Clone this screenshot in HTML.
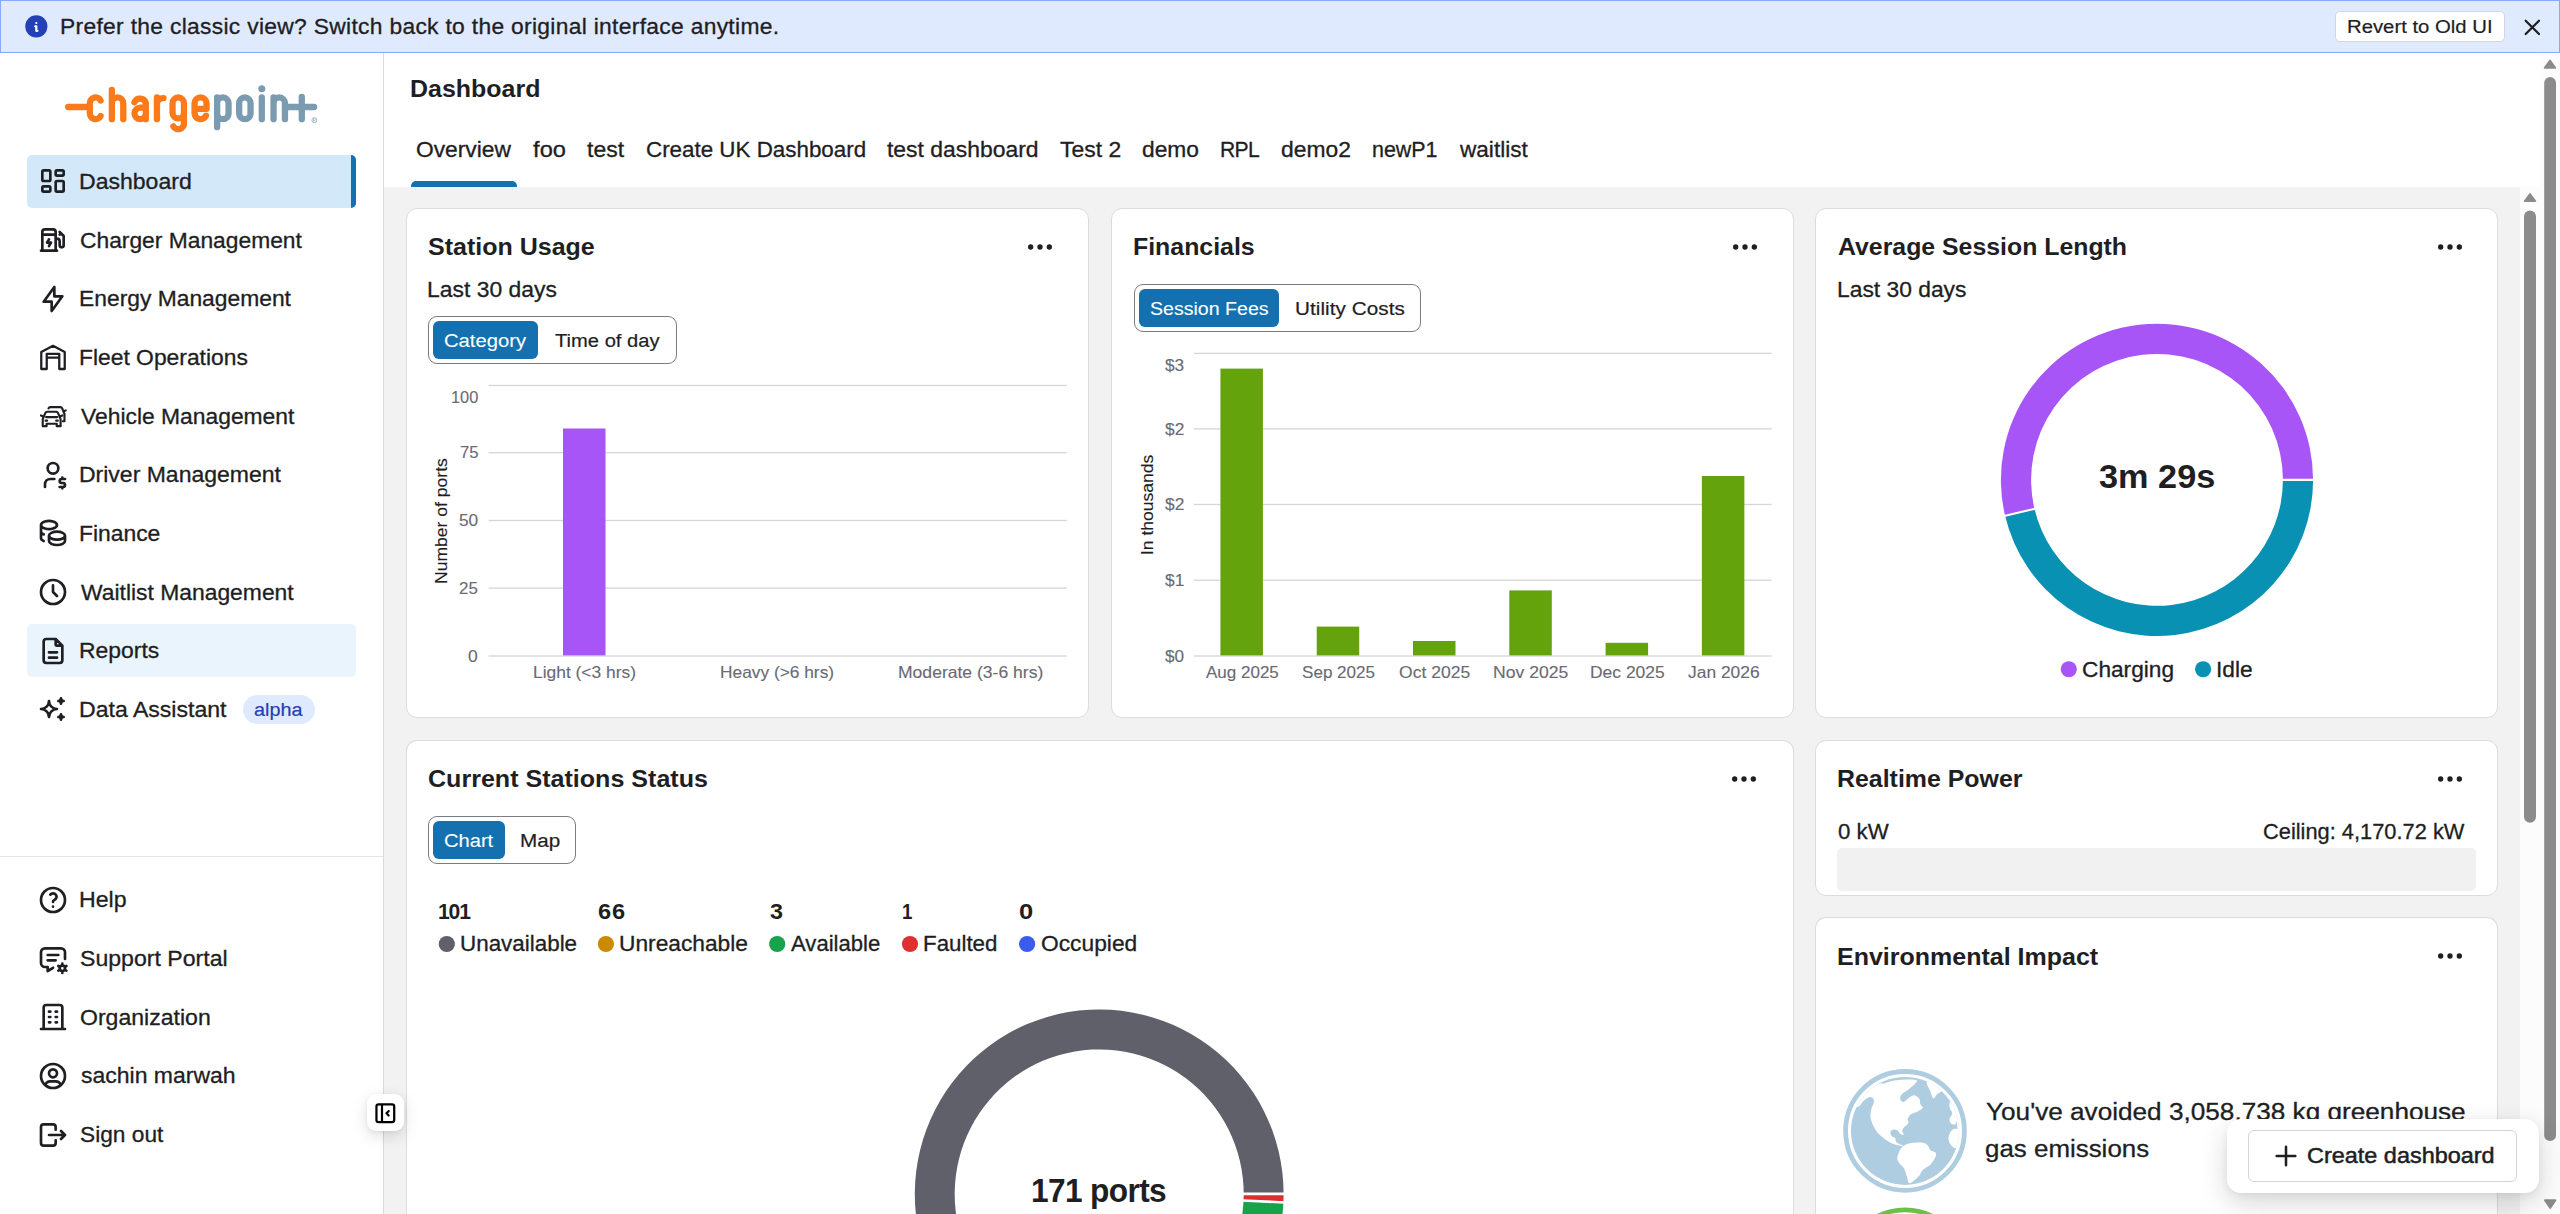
<!DOCTYPE html>
<html lang="en"><head><meta charset="utf-8"><title>Dashboard</title><style>
html,body{margin:0;padding:0}
html{overflow:hidden;width:2560px;height:1214px}
body{width:2560px;height:1214px;position:relative;overflow:hidden;background:#fff;font-family:"Liberation Sans",sans-serif;color:#1e1e23}
.b,.t,.i,.s{position:absolute}
.b{box-sizing:border-box}
.t{white-space:nowrap;display:block;transform-origin:0 0;-webkit-text-stroke:.3px currentColor}
.card{background:#fff;border:1.33px solid #dcdce0;border-radius:11px}
.seg{border:1.33px solid #7c7c85;border-radius:9px;background:#fff}
.on{background:#1470af;border-radius:6px}
.dot{border-radius:50%}
</style></head>
<body>
<div class="b" style="left:384.00px;top:186.70px;width:2136.00px;height:1027.30px;background:#f2f2f2"></div>
<div class="b" style="left:0.00px;top:53.00px;width:383.30px;height:1161.00px;background:#fff"></div>
<div class="b" style="left:383.00px;top:53.00px;width:1.33px;height:1161.00px;background:#dadade"></div>
<header>
<div class="b" style="left:0.00px;top:0.00px;width:2560.00px;height:53.30px;background:#e0eaff;border:1.33px solid #84a9ff"></div>
<svg class="i" style="left:22.62px;top:13.27px" width="26.67" height="26.67" viewBox="0 0 24 24"><circle cx="12" cy="12" r="10" fill="#2340b5"/><path d="M12 9h.01M11 12h1v4h1" fill="none" stroke="#fff" stroke-width="2" stroke-linecap="round" stroke-linejoin="round"/></svg>
<span class="t" style="left:59.68px;top:15.00px;font-size:21.22px;line-height:23px;letter-spacing:0.289px;transform:scaleX(1.0750);">Prefer the classic view? Switch back to the original interface anytime.</span>
<div class="b" style="left:2335.20px;top:11.30px;width:169.50px;height:31.00px;background:#fff;border:1.33px solid #d5d5db;border-radius:5px"></div>
<span class="t" style="left:2347.38px;top:16.20px;font-size:19.23px;line-height:21px;transform:scaleX(1.0568);-webkit-text-stroke-width:.2px;">Revert to Old UI</span>
<svg class="i" style="left:2518.80px;top:13.70px" width="26.67" height="26.67" viewBox="0 0 24 24" fill="none" stroke="#1e1e23" stroke-width="2" stroke-linecap="round" stroke-linejoin="round"><path d="M18 6l-12 12M6 6l12 12"/></svg>
</header>
<nav>
<div class="b" style="left:26.70px;top:154.70px;width:329.30px;height:53.30px;background:#d3e8f8;border-radius:5px;overflow:hidden"><div class="b" style="right:0;top:0;width:5.3px;height:100%;background:#1470af"></div></div>
<div class="b" style="left:26.70px;top:624.04px;width:329.30px;height:53.30px;background:#eaf4fc;border-radius:5px"></div>
<svg class="i" style="left:37.33px;top:165.33px" width="32.00" height="32.00" viewBox="0 0 24 24" fill="none" stroke="#1e1e23" stroke-width="2" stroke-linecap="round" stroke-linejoin="round"><rect x="4" y="4" width="6" height="8" rx="1"/><rect x="4" y="16" width="6" height="4" rx="1"/><rect x="14" y="12" width="6" height="8" rx="1"/><rect x="14" y="4" width="6" height="4" rx="1"/></svg>
<span class="t" style="left:79.26px;top:168.90px;font-size:21.97px;line-height:25px;transform:scaleX(1.0487);">Dashboard</span>
<svg class="i" style="left:37.33px;top:224.00px" width="32.00" height="32.00" viewBox="0 0 24 24" fill="none" stroke="#1e1e23" stroke-width="2" stroke-linecap="round" stroke-linejoin="round"><path d="M18 7l-1 1M14 11h1a2 2 0 0 1 2 2v3a1.5 1.5 0 0 0 3 0v-7l-3 -3M4 20v-14a2 2 0 0 1 2 -2h6a2 2 0 0 1 2 2v14M9 11.5l-1.5 2.5h3l-1.5 2.5M3 20h12M4 8h10"/></svg>
<span class="t" style="left:80.00px;top:227.57px;font-size:21.97px;line-height:25px;transform:scaleX(1.0381);">Charger Management</span>
<svg class="i" style="left:37.33px;top:282.66px" width="32.00" height="32.00" viewBox="0 0 24 24" fill="none" stroke="#1e1e23" stroke-width="2" stroke-linecap="round" stroke-linejoin="round"><path d="M13 3v7h6l-8 11v-7h-6l8 -11"/></svg>
<span class="t" style="left:79.28px;top:286.23px;font-size:21.97px;line-height:25px;transform:scaleX(1.0393);">Energy Management</span>
<svg class="i" style="left:37.33px;top:341.33px" width="32.00" height="32.00" viewBox="0 0 24 24" fill="none" stroke="#1e1e23" stroke-width="2" stroke-linecap="round" stroke-linejoin="round"><path d="M3.2 21V8.2L12 3.6l8.800 4.600v12.800H16.700V9.700H7.300v11.300z M7.300 12.400h9.400" stroke-width="1.7"/></svg>
<span class="t" style="left:79.28px;top:344.90px;font-size:21.97px;line-height:25px;transform:scaleX(1.0396);">Fleet Operations</span>
<svg class="i" style="left:37.33px;top:400.00px" width="32.00" height="32.00" viewBox="0 0 24 24" fill="none" stroke="#1e1e23" stroke-width="2" stroke-linecap="round" stroke-linejoin="round"><g stroke-width="1.6"><path d="M4.3 19.6v-5.2l1.9-4.6a1.6 1.6 0 0 1 1.5-1h6.6a1.6 1.6 0 0 1 1.5 1l1.9 4.6v5.2h-2.9v-1.8H7.2v1.8z"/><path d="M3 11.6l1.6 .8M19 11.600l-1.6 .8M6.800 12.800h8.400M6.400 15.500h1.200M14.400 15.500h1.200"/><path d="M8.600 6.300a1.600 1.600 0 0 1 1.500 -1h7.300a1.600 1.600 0 0 1 1.500 1l1.700 4.200v5.400h-1.200M20.300 8.400l1.300 -.6"/></g></svg>
<span class="t" style="left:81.06px;top:403.57px;font-size:21.97px;line-height:25px;transform:scaleX(1.0400);">Vehicle Management</span>
<svg class="i" style="left:37.33px;top:458.67px" width="32.00" height="32.00" viewBox="0 0 24 24" fill="none" stroke="#1e1e23" stroke-width="2" stroke-linecap="round" stroke-linejoin="round"><path d="M8 7a4 4 0 1 0 8 0a4 4 0 0 0 -8 0M6 21v-2a4 4 0 0 1 4 -4h3M21 15h-2.500a1.500 1.500 0 0 0 0 3h1a1.500 1.500 0 0 1 0 3h-2.500M19 21v1m0 -8v1"/></svg>
<span class="t" style="left:79.26px;top:462.24px;font-size:21.97px;line-height:25px;transform:scaleX(1.0465);">Driver Management</span>
<svg class="i" style="left:37.33px;top:517.33px" width="32.00" height="32.00" viewBox="0 0 24 24" fill="none" stroke="#1e1e23" stroke-width="2" stroke-linecap="round" stroke-linejoin="round"><path d="M9 14c0 1.657 2.686 3 6 3s6 -1.343 6 -3s-2.686 -3 -6 -3s-6 1.343 -6 3zM9 14v4c0 1.656 2.686 3 6 3s6 -1.344 6 -3v-4M3 6c0 1.072 1.144 2.062 3 2.598s4.144 .536 6 0c1.856 -.536 3 -1.526 3 -2.598c0 -1.072 -1.144 -2.062 -3 -2.598s-4.144 -.536 -6 0c-1.856 .536 -3 1.526 -3 2.598zM3 6v10c0 .888 .772 1.450 2 2M3 11c0 .888 .772 1.450 2 2"/></svg>
<span class="t" style="left:79.28px;top:520.90px;font-size:21.97px;line-height:25px;transform:scaleX(1.0406);">Finance</span>
<svg class="i" style="left:37.33px;top:576.00px" width="32.00" height="32.00" viewBox="0 0 24 24" fill="none" stroke="#1e1e23" stroke-width="2" stroke-linecap="round" stroke-linejoin="round"><path d="M3 12a9 9 0 1 0 18 0a9 9 0 0 0 -18 0M12 7v5l3 3"/></svg>
<span class="t" style="left:81.06px;top:579.57px;font-size:21.97px;line-height:25px;transform:scaleX(1.0410);">Waitlist Management</span>
<svg class="i" style="left:37.33px;top:634.67px" width="32.00" height="32.00" viewBox="0 0 24 24" fill="none" stroke="#1e1e23" stroke-width="2" stroke-linecap="round" stroke-linejoin="round"><path d="M14 3v4a1 1 0 0 0 1 1h4M17 21h-10a2 2 0 0 1 -2 -2v-14a2 2 0 0 1 2 -2h7l5 5v11a2 2 0 0 1 -2 2zM9 13h6M9 17h6"/></svg>
<span class="t" style="left:79.27px;top:638.24px;font-size:21.97px;line-height:25px;transform:scaleX(1.0432);">Reports</span>
<svg class="i" style="left:37.33px;top:693.33px" width="32.00" height="32.00" viewBox="0 0 24 24" fill="none" stroke="#1e1e23" stroke-width="2" stroke-linecap="round" stroke-linejoin="round"><path d="M16 18a2 2 0 0 1 2 2a2 2 0 0 1 2 -2a2 2 0 0 1 -2 -2a2 2 0 0 1 -2 2zm0 -12a2 2 0 0 1 2 2a2 2 0 0 1 2 -2a2 2 0 0 1 -2 -2a2 2 0 0 1 -2 2zm-7 12a6 6 0 0 1 6 -6a6 6 0 0 1 -6 -6a6 6 0 0 1 -6 6a6 6 0 0 1 6 6z"/></svg>
<span class="t" style="left:79.26px;top:696.90px;font-size:21.97px;line-height:25px;transform:scaleX(1.0503);">Data Assistant</span>
<div class="b" style="left:243.20px;top:694.90px;width:71.60px;height:29.00px;background:#e0eaff;border-radius:15px"></div>
<span class="t" style="left:254.02px;top:698.90px;font-size:19.23px;line-height:21px;transform:scaleX(1.0303);color:#2240b0;-webkit-text-stroke-width:.2px;">alpha</span>
<div class="b" style="left:0.00px;top:856.00px;width:383.00px;height:1.33px;background:#e4e4e7"></div>
<svg class="i" style="left:37.33px;top:883.90px" width="32.00" height="32.00" viewBox="0 0 24 24" fill="none" stroke="#1e1e23" stroke-width="2" stroke-linecap="round" stroke-linejoin="round"><path d="M3 12a9 9 0 1 0 18 0a9 9 0 1 0 -18 0M12 17v.01M12 13.500a1.500 1.500 0 0 1 1 -1.500a2.600 2.600 0 1 0 -3 -4"/></svg>
<span class="t" style="left:79.25px;top:887.20px;font-size:21.97px;line-height:25px;transform:scaleX(1.0537);">Help</span>
<svg class="i" style="left:37.33px;top:942.57px" width="32.00" height="32.00" viewBox="0 0 24 24" fill="none" stroke="#1e1e23" stroke-width="2" stroke-linecap="round" stroke-linejoin="round"><path d="M8 9h8M8 13h6M12.031 18.581l-4.031 2.419v-3h-2a3 3 0 0 1 -3 -3v-8a3 3 0 0 1 3 -3h12a3 3 0 0 1 3 3v5M17.001 19a2 2 0 1 0 4 0a2 2 0 1 0 -4 0M19.001 15.500v1.500M19.001 21v1.500M22.032 17.250l-1.299 .750M17.270 20l-1.300 .750M15.970 17.250l1.300 .750M20.733 20l1.300 .750"/></svg>
<span class="t" style="left:80.11px;top:945.87px;font-size:21.97px;line-height:25px;transform:scaleX(1.0511);">Support Portal</span>
<svg class="i" style="left:37.33px;top:1001.23px" width="32.00" height="32.00" viewBox="0 0 24 24" fill="none" stroke="#1e1e23" stroke-width="2" stroke-linecap="round" stroke-linejoin="round"><path d="M3 21h18M9 8h1M9 12h1M9 16h1M14 8h1M14 12h1M14 16h1M5 21v-16a2 2 0 0 1 2 -2h10a2 2 0 0 1 2 2v16"/></svg>
<span class="t" style="left:80.07px;top:1004.53px;font-size:21.97px;line-height:25px;transform:scaleX(1.0494);">Organization</span>
<svg class="i" style="left:37.33px;top:1059.90px" width="32.00" height="32.00" viewBox="0 0 24 24" fill="none" stroke="#1e1e23" stroke-width="2" stroke-linecap="round" stroke-linejoin="round"><path d="M3 12a9 9 0 1 0 18 0a9 9 0 1 0 -18 0M9 10a3 3 0 1 0 6 0a3 3 0 1 0 -6 0M6.168 18.849a4 4 0 0 1 3.832 -2.849h4a4 4 0 0 1 3.834 2.855"/></svg>
<span class="t" style="left:80.52px;top:1063.20px;font-size:21.97px;line-height:25px;transform:scaleX(1.0468);">sachin marwah</span>
<svg class="i" style="left:37.33px;top:1118.57px" width="32.00" height="32.00" viewBox="0 0 24 24" fill="none" stroke="#1e1e23" stroke-width="2" stroke-linecap="round" stroke-linejoin="round"><path d="M14 8v-2a2 2 0 0 0 -2 -2h-7a2 2 0 0 0 -2 2v12a2 2 0 0 0 2 2h7a2 2 0 0 0 2 -2v-2M9 12h12l-3 -3M18 15l3 -3"/></svg>
<span class="t" style="left:80.13px;top:1121.87px;font-size:21.97px;line-height:25px;transform:scaleX(1.0336);">Sign out</span>
</nav>
<main>
<span class="t" style="left:410.49px;top:75.00px;font-size:24.31px;line-height:27px;transform:scaleX(1.0275);font-weight:700;-webkit-text-stroke:0;">Dashboard</span>
<span class="t" style="left:415.58px;top:136.90px;font-size:21.97px;line-height:25px;transform:scaleX(1.0371);">Overview</span>
<span class="t" style="left:533.02px;top:136.90px;font-size:21.97px;line-height:25px;letter-spacing:0.062px;transform:scaleX(1.0750);">foo</span>
<span class="t" style="left:587.21px;top:136.90px;font-size:21.97px;line-height:25px;transform:scaleX(1.0463);">test</span>
<span class="t" style="left:645.72px;top:136.90px;font-size:21.97px;line-height:25px;transform:scaleX(1.0183);">Create UK Dashboard</span>
<span class="t" style="left:886.61px;top:136.90px;font-size:21.97px;line-height:25px;transform:scaleX(1.0428);">test dashboard</span>
<span class="t" style="left:1059.55px;top:136.90px;font-size:21.97px;line-height:25px;transform:scaleX(1.0441);">Test 2</span>
<span class="t" style="left:1142.01px;top:136.90px;font-size:21.97px;line-height:25px;transform:scaleX(1.0361);">demo</span>
<span class="t" style="left:1220.02px;top:136.90px;font-size:21.97px;line-height:25px;letter-spacing:-0.701px;transform:scaleX(0.9600);">RPL</span>
<span class="t" style="left:1281.10px;top:136.90px;font-size:21.97px;line-height:25px;transform:scaleX(1.0397);">demo2</span>
<span class="t" style="left:1372.04px;top:136.90px;font-size:21.97px;line-height:25px;transform:scaleX(0.9751);">newP1</span>
<span class="t" style="left:1459.88px;top:136.90px;font-size:21.97px;line-height:25px;transform:scaleX(1.0281);">waitlist</span>
<div class="b" style="left:410.70px;top:181.30px;width:106.30px;height:5.40px;background:#1470af;border-radius:5px 5px 0 0"></div>
<div class="b card" style="left:405.50px;top:208.30px;width:683.50px;height:510.00px;"></div>
<div class="b card" style="left:1111.30px;top:208.30px;width:683.00px;height:510.00px;"></div>
<div class="b card" style="left:1815.30px;top:208.30px;width:683.00px;height:510.00px;"></div>
<div class="b card" style="left:405.50px;top:739.80px;width:1388.80px;height:474.20px;border-bottom:0;border-radius:11px 11px 0 0"></div>
<div class="b card" style="left:1815.30px;top:739.80px;width:683.00px;height:156.20px;"></div>
<div class="b card" style="left:1815.30px;top:917.00px;width:683.00px;height:297.00px;border-bottom:0;border-radius:11px 11px 0 0"></div>
<span class="t" style="left:428.24px;top:233.90px;font-size:23.35px;line-height:26px;transform:scaleX(1.0714);font-weight:700;-webkit-text-stroke:0;">Station Usage</span>
<svg class="i" style="left:1024.00px;top:230.60px" width="32.00" height="32.00" viewBox="0 0 24 24" fill="none" stroke="#1e1e23" stroke-width="2" stroke-linecap="round" stroke-linejoin="round"><path d="M4 12a1 1 0 1 0 2 0a1 1 0 1 0 -2 0M11 12a1 1 0 1 0 2 0a1 1 0 1 0 -2 0M18 12a1 1 0 1 0 2 0a1 1 0 1 0 -2 0"/></svg>
<span class="t" style="left:427.37px;top:276.80px;font-size:21.97px;line-height:25px;transform:scaleX(1.0423);">Last 30 days</span>
<div class="b seg" style="left:428.20px;top:316.20px;width:248.90px;height:47.50px;"></div>
<div class="b on" style="left:433.20px;top:321.20px;width:104.70px;height:37.60px;"></div>
<span class="t" style="left:444.03px;top:330.00px;font-size:19.23px;line-height:21px;transform:scaleX(1.0522);color:#fff;-webkit-text-stroke-width:.2px;-webkit-text-stroke-width:.1px;">Category</span>
<span class="t" style="left:555.41px;top:330.00px;font-size:19.23px;line-height:21px;transform:scaleX(1.0489);-webkit-text-stroke-width:.2px;">Time of day</span>
<span class="t" style="left:1133.29px;top:234.00px;font-size:23.35px;line-height:26px;transform:scaleX(1.0658);font-weight:700;-webkit-text-stroke:0;">Financials</span>
<svg class="i" style="left:1729.30px;top:230.60px" width="32.00" height="32.00" viewBox="0 0 24 24" fill="none" stroke="#1e1e23" stroke-width="2" stroke-linecap="round" stroke-linejoin="round"><path d="M4 12a1 1 0 1 0 2 0a1 1 0 1 0 -2 0M11 12a1 1 0 1 0 2 0a1 1 0 1 0 -2 0M18 12a1 1 0 1 0 2 0a1 1 0 1 0 -2 0"/></svg>
<div class="b seg" style="left:1133.60px;top:284.40px;width:287.60px;height:47.50px;"></div>
<div class="b on" style="left:1138.70px;top:289.40px;width:140.80px;height:37.60px;"></div>
<span class="t" style="left:1149.87px;top:297.60px;font-size:19.23px;line-height:21px;transform:scaleX(1.0183);color:#fff;-webkit-text-stroke-width:.2px;-webkit-text-stroke-width:.1px;">Session Fees</span>
<span class="t" style="left:1295.26px;top:297.60px;font-size:19.23px;line-height:21px;letter-spacing:0.059px;transform:scaleX(1.0750);-webkit-text-stroke-width:.2px;">Utility Costs</span>
<span class="t" style="left:1838.14px;top:233.90px;font-size:23.35px;line-height:26px;transform:scaleX(1.0643);font-weight:700;-webkit-text-stroke:0;">Average Session Length</span>
<svg class="i" style="left:2433.50px;top:230.60px" width="32.00" height="32.00" viewBox="0 0 24 24" fill="none" stroke="#1e1e23" stroke-width="2" stroke-linecap="round" stroke-linejoin="round"><path d="M4 12a1 1 0 1 0 2 0a1 1 0 1 0 -2 0M11 12a1 1 0 1 0 2 0a1 1 0 1 0 -2 0M18 12a1 1 0 1 0 2 0a1 1 0 1 0 -2 0"/></svg>
<span class="t" style="left:1837.18px;top:276.80px;font-size:21.97px;line-height:25px;transform:scaleX(1.0390);">Last 30 days</span>
<span class="t" style="left:428.02px;top:766.00px;font-size:23.35px;line-height:26px;transform:scaleX(1.0737);font-weight:700;-webkit-text-stroke:0;">Current Stations Status</span>
<svg class="i" style="left:1728.00px;top:762.60px" width="32.00" height="32.00" viewBox="0 0 24 24" fill="none" stroke="#1e1e23" stroke-width="2" stroke-linecap="round" stroke-linejoin="round"><path d="M4 12a1 1 0 1 0 2 0a1 1 0 1 0 -2 0M11 12a1 1 0 1 0 2 0a1 1 0 1 0 -2 0M18 12a1 1 0 1 0 2 0a1 1 0 1 0 -2 0"/></svg>
<div class="b seg" style="left:427.90px;top:816.10px;width:147.90px;height:47.50px;"></div>
<div class="b on" style="left:433.00px;top:821.10px;width:72.00px;height:37.60px;"></div>
<span class="t" style="left:444.13px;top:830.00px;font-size:19.23px;line-height:21px;transform:scaleX(1.0464);color:#fff;-webkit-text-stroke-width:.2px;-webkit-text-stroke-width:.1px;">Chart</span>
<span class="t" style="left:520.26px;top:830.00px;font-size:19.23px;line-height:21px;transform:scaleX(1.0749);-webkit-text-stroke-width:.2px;">Map</span>
<span class="t" style="left:1836.89px;top:766.00px;font-size:23.35px;line-height:26px;transform:scaleX(1.0666);font-weight:700;-webkit-text-stroke:0;">Realtime Power</span>
<svg class="i" style="left:2433.50px;top:762.60px" width="32.00" height="32.00" viewBox="0 0 24 24" fill="none" stroke="#1e1e23" stroke-width="2" stroke-linecap="round" stroke-linejoin="round"><path d="M4 12a1 1 0 1 0 2 0a1 1 0 1 0 -2 0M11 12a1 1 0 1 0 2 0a1 1 0 1 0 -2 0M18 12a1 1 0 1 0 2 0a1 1 0 1 0 -2 0"/></svg>
<span class="t" style="left:1837.88px;top:818.90px;font-size:21.97px;line-height:25px;transform:scaleX(1.0130);">0 kW</span>
<span class="t" style="left:2263.35px;top:818.90px;font-size:21.97px;line-height:25px;transform:scaleX(0.9936);">Ceiling: 4,170.72 kW</span>
<div class="b" style="left:1837.40px;top:848.40px;width:638.50px;height:42.40px;background:#f1f1f1;border-radius:5px"></div>
<span class="t" style="left:1836.89px;top:943.50px;font-size:23.35px;line-height:26px;transform:scaleX(1.0708);font-weight:700;-webkit-text-stroke:0;">Environmental Impact</span>
<svg class="i" style="left:2433.50px;top:940.10px" width="32.00" height="32.00" viewBox="0 0 24 24" fill="none" stroke="#1e1e23" stroke-width="2" stroke-linecap="round" stroke-linejoin="round"><path d="M4 12a1 1 0 1 0 2 0a1 1 0 1 0 -2 0M11 12a1 1 0 1 0 2 0a1 1 0 1 0 -2 0M18 12a1 1 0 1 0 2 0a1 1 0 1 0 -2 0"/></svg>
<span class="t" style="left:450.71px;top:388.20px;font-size:16.48px;line-height:18px;transform:scaleX(0.9938);color:#6a6a73;-webkit-text-stroke-width:.12px;">100</span>
<span class="t" style="left:459.50px;top:443.40px;font-size:16.48px;line-height:18px;transform:scaleX(1.0148);color:#6a6a73;-webkit-text-stroke-width:.12px;">75</span>
<span class="t" style="left:458.86px;top:511.20px;font-size:16.48px;line-height:18px;transform:scaleX(1.0480);color:#6a6a73;-webkit-text-stroke-width:.12px;">50</span>
<span class="t" style="left:459.30px;top:578.80px;font-size:16.48px;line-height:18px;transform:scaleX(1.0257);color:#6a6a73;-webkit-text-stroke-width:.12px;">25</span>
<span class="t" style="left:468.37px;top:646.60px;font-size:16.48px;line-height:18px;transform:scaleX(1.0589);color:#6a6a73;-webkit-text-stroke-width:.12px;">0</span>
<span class="t" style="left:432.20px;top:583.64px;font-size:16.48px;line-height:18px;transform:rotate(-90deg) scaleX(1.0653);-webkit-text-stroke-width:.12px;">Number of ports</span>
<span class="t" style="left:532.92px;top:663.10px;font-size:16.48px;line-height:18px;transform:scaleX(1.0564);color:#6a6a73;-webkit-text-stroke-width:.12px;">Light (&lt;3 hrs)</span>
<span class="t" style="left:720.13px;top:663.10px;font-size:16.48px;line-height:18px;transform:scaleX(1.0518);color:#6a6a73;-webkit-text-stroke-width:.12px;">Heavy (&gt;6 hrs)</span>
<span class="t" style="left:897.71px;top:663.10px;font-size:16.48px;line-height:18px;transform:scaleX(1.0653);color:#6a6a73;-webkit-text-stroke-width:.12px;">Moderate (3-6 hrs)</span>
<span class="t" style="left:1206.12px;top:663.10px;font-size:16.48px;line-height:18px;transform:scaleX(1.0329);color:#6a6a73;-webkit-text-stroke-width:.12px;">Aug 2025</span>
<span class="t" style="left:1301.91px;top:663.10px;font-size:16.48px;line-height:18px;transform:scaleX(1.0364);color:#6a6a73;-webkit-text-stroke-width:.12px;">Sep 2025</span>
<span class="t" style="left:1399.13px;top:663.10px;font-size:16.48px;line-height:18px;transform:scaleX(1.0647);color:#6a6a73;-webkit-text-stroke-width:.12px;">Oct 2025</span>
<span class="t" style="left:1493.05px;top:663.10px;font-size:16.48px;line-height:18px;transform:scaleX(1.0678);color:#6a6a73;-webkit-text-stroke-width:.12px;">Nov 2025</span>
<span class="t" style="left:1589.59px;top:663.10px;font-size:16.48px;line-height:18px;transform:scaleX(1.0605);color:#6a6a73;-webkit-text-stroke-width:.12px;">Dec 2025</span>
<span class="t" style="left:1688.04px;top:663.10px;font-size:16.48px;line-height:18px;transform:scaleX(1.0571);color:#6a6a73;-webkit-text-stroke-width:.12px;">Jan 2026</span>
<span class="t" style="left:1164.77px;top:356.00px;font-size:16.48px;line-height:18px;transform:scaleX(1.0467);color:#6a6a73;-webkit-text-stroke-width:.12px;">$3</span>
<span class="t" style="left:1164.77px;top:419.60px;font-size:16.48px;line-height:18px;transform:scaleX(1.0532);color:#6a6a73;-webkit-text-stroke-width:.12px;">$2</span>
<span class="t" style="left:1164.77px;top:495.20px;font-size:16.48px;line-height:18px;transform:scaleX(1.0532);color:#6a6a73;-webkit-text-stroke-width:.12px;">$2</span>
<span class="t" style="left:1164.77px;top:570.90px;font-size:16.48px;line-height:18px;transform:scaleX(1.0517);color:#6a6a73;-webkit-text-stroke-width:.12px;">$1</span>
<span class="t" style="left:1164.77px;top:646.60px;font-size:16.48px;line-height:18px;transform:scaleX(1.0418);color:#6a6a73;-webkit-text-stroke-width:.12px;">$0</span>
<span class="t" style="left:1138.00px;top:555.31px;font-size:16.48px;line-height:18px;transform:rotate(-90deg) scaleX(1.0643);-webkit-text-stroke-width:.12px;">In thousands</span>
<span class="t" style="left:2099.08px;top:458.20px;font-size:32.96px;line-height:37px;transform:scaleX(1.0405);font-weight:700;-webkit-text-stroke:0;">3m 29s</span>
<span class="t" style="left:2081.90px;top:657.00px;font-size:21.97px;line-height:25px;transform:scaleX(1.0325);">Charging</span>
<span class="t" style="left:2215.86px;top:657.00px;font-size:21.97px;line-height:25px;transform:scaleX(1.0346);">Idle</span>
<span class="t" style="left:438.03px;top:899.00px;font-size:21.97px;line-height:25px;letter-spacing:-1.168px;transform:scaleX(0.9600);font-weight:700;-webkit-text-stroke:0;">101</span>
<span class="t" style="left:460.03px;top:931.00px;font-size:21.97px;line-height:25px;transform:scaleX(1.0197);">Unavailable</span>
<span class="t" style="left:598.39px;top:899.00px;font-size:21.97px;line-height:25px;letter-spacing:0.826px;transform:scaleX(1.0750);font-weight:700;-webkit-text-stroke:0;">66</span>
<span class="t" style="left:619.00px;top:931.00px;font-size:21.97px;line-height:25px;transform:scaleX(1.0347);">Unreachable</span>
<span class="t" style="left:769.92px;top:899.00px;font-size:21.97px;line-height:25px;transform:scaleX(1.0648);font-weight:700;-webkit-text-stroke:0;">3</span>
<span class="t" style="left:791.42px;top:931.00px;font-size:21.97px;line-height:25px;transform:scaleX(1.0056);">Available</span>
<span class="t" style="left:901.58px;top:899.00px;font-size:21.97px;line-height:25px;transform:scaleX(0.8500);font-weight:700;-webkit-text-stroke:0;">1</span>
<span class="t" style="left:923.32px;top:931.00px;font-size:21.97px;line-height:25px;transform:scaleX(1.0154);">Faulted</span>
<span class="t" style="left:1019.24px;top:899.00px;font-size:21.97px;line-height:25px;transform:scaleX(1.1618);font-weight:700;-webkit-text-stroke:0;">0</span>
<span class="t" style="left:1041.08px;top:931.00px;font-size:21.97px;line-height:25px;transform:scaleX(1.0374);">Occupied</span>
<span class="t" style="left:1031.17px;top:1171.70px;font-size:32.96px;line-height:37px;letter-spacing:-0.647px;transform:scaleX(0.9600);font-weight:700;-webkit-text-stroke:0;">171 ports</span>
<span class="t" style="left:1985.87px;top:1098.30px;font-size:24.72px;line-height:27px;transform:scaleX(1.0583);">You&#x27;ve avoided 3,058.738 kg greenhouse</span>
<span class="t" style="left:1985.37px;top:1135.20px;font-size:24.72px;line-height:27px;transform:scaleX(1.0481);">gas emissions</span>
<svg class="s" style="left:0;top:0" width="2560" height="1214" viewBox="0 0 2560 1214"><path d="M100.58 100.47A5.70 5.70 0 0 0 89.85 103.15V113.45A5.70 5.70 0 0 0 100.58 116.13M111.85 89.95V119.15M111.85 103.15A5.70 5.70 0 0 1 123.25 103.15V119.15M134.45 102.25A6.00 6.00 0 0 1 145.85 103.45V119.15M145.85 107.60H140.35A5.80 5.750 0 0 0 140.35 119.15A5.80 5.750 0 0 0 145.85 113.40M156.95 97.45V119.15M156.95 103.65A6.20 6.20 0 0 1 163.55 98.05M172.55 103.15A5.70 5.70 0 0 1 183.95 103.15V112.65A5.70 5.70 0 0 1 172.55 112.65ZM183.95 103.15V123.20A5.70 5.70 0 0 1 173.35 126.40M194.55 108.80H206.55V103.45A6.00 6.00 0 0 0 194.55 103.45V113.15A6.00 6.00 0 0 0 205.99 115.69M68.200 107H88" fill="none" stroke="#fd7a1b" stroke-width="6.3" stroke-linecap="round" stroke-linejoin="round"/><path d="M217.15 97.45V127.15M217.15 103.15A5.70 5.70 0 0 1 228.55 103.15V113.45A5.70 5.70 0 0 1 217.15 113.45M239.15 103.15A5.70 5.70 0 0 1 250.55 103.15V113.45A5.70 5.70 0 0 1 239.15 113.45ZM261.80 97.45V119.15M273.55 97.45V119.15M273.55 103.15A5.70 5.70 0 0 1 284.95 103.15V119.15M287 107H314.100M301.800 96.900V119.200" fill="none" stroke="#7a9bb0" stroke-width="6.3" stroke-linecap="round" stroke-linejoin="round"/><circle cx="261.800" cy="88.700" r="3.500" fill="#7a9bb0"/><circle cx="314.400" cy="120.200" r="2.500" fill="none" stroke="#7a9bb0" stroke-width=".7"/><path d="M313.500 121.600v-2.800h1.100a.8 .8 0 0 1 0 1.600h-1.100m1.100 0l.8 1.200" fill="none" stroke="#7a9bb0" stroke-width=".5"/><rect x="488.60" y="384.83" width="578.20" height="1.33" fill="#d6d6d6"/><rect x="488.60" y="452.03" width="578.20" height="1.33" fill="#d6d6d6"/><rect x="488.60" y="519.84" width="578.20" height="1.33" fill="#d6d6d6"/><rect x="488.60" y="587.44" width="578.20" height="1.33" fill="#d6d6d6"/><rect x="488.60" y="655.34" width="578.20" height="1.33" fill="#d6d6d6"/><rect x="563.00" y="428.50" width="42.50" height="226.90" fill="#a855f7"/><rect x="1193.90" y="352.73" width="577.70" height="1.33" fill="#d6d6d6"/><rect x="1193.90" y="428.23" width="577.70" height="1.33" fill="#d6d6d6"/><rect x="1193.90" y="503.83" width="577.70" height="1.33" fill="#d6d6d6"/><rect x="1193.90" y="579.54" width="577.70" height="1.33" fill="#d6d6d6"/><rect x="1193.90" y="655.34" width="577.70" height="1.33" fill="#d6d6d6"/><rect x="1220.44" y="368.60" width="42.50" height="286.80" fill="#65a30d"/><rect x="1316.73" y="626.60" width="42.50" height="28.80" fill="#65a30d"/><rect x="1413.01" y="641.00" width="42.50" height="14.40" fill="#65a30d"/><rect x="1509.29" y="590.40" width="42.50" height="65.00" fill="#65a30d"/><rect x="1605.58" y="642.80" width="42.50" height="12.60" fill="#65a30d"/><rect x="1701.86" y="476.00" width="42.50" height="179.40" fill="#65a30d"/><path d="M2313.10 479.90A156.1 156.1 0 0 1 2005.09 515.81L2034.48 508.86A125.9 125.9 0 0 0 2282.90 479.90Z" fill="#0891b2"/><path d="M2005.09 515.81A156.1 156.1 0 1 1 2313.10 479.90L2282.90 479.90A125.9 125.9 0 1 0 2034.48 508.86Z" fill="#a855f7"/><path d="M2281.90 479.90L2314.10 479.90" stroke="#fff" stroke-width="2.1"/><path d="M2035.45 508.63L2004.11 516.04" stroke="#fff" stroke-width="2.1"/><circle cx="2068.800" cy="669.200" r="8.050" fill="#a855f7"/><circle cx="2203.100" cy="669.200" r="8.050" fill="#0891b2"/><circle cx="446.8" cy="944" r="8.100" fill="#60606a"/><circle cx="605.9" cy="944" r="8.100" fill="#ca8a04"/><circle cx="777.2" cy="944" r="8.100" fill="#16a34a"/><circle cx="910.0" cy="944" r="8.100" fill="#de3030"/><circle cx="1027.1" cy="944" r="8.100" fill="#3b5bec"/><path d="M1283.60 1193.90A184.4 184.4 0 0 1 1283.40 1202.43L1243.55 1200.59A144.5 144.5 0 0 0 1243.70 1193.90Z" fill="#de2f2f"/><path d="M1283.40 1202.43A184.4 184.4 0 0 1 1281.35 1222.65L1241.93 1216.43A144.5 144.5 0 0 0 1243.55 1200.59Z" fill="#16a34a"/><path d="M1281.35 1222.65A184.4 184.4 0 0 1 943.91 1293.33L977.51 1271.82A144.5 144.5 0 0 0 1241.93 1216.43Z" fill="#ca8a04"/><path d="M943.91 1293.33A184.4 184.4 0 1 1 1283.60 1193.90L1243.70 1193.90A144.5 144.5 0 1 0 977.51 1271.82Z" fill="#60606a"/><path d="M1242.70 1193.90L1284.60 1193.90" stroke="#fff" stroke-width="2.6"/><path d="M1242.55 1200.54L1284.40 1202.48" stroke="#fff" stroke-width="2.6"/><path d="M1240.95 1216.27L1282.33 1222.80" stroke="#fff" stroke-width="2.6"/><path d="M978.35 1271.28L943.06 1293.87" stroke="#fff" stroke-width="2.6"/><circle cx="1905.0" cy="1130.9" r="59.400" fill="none" stroke="#aecde0" stroke-width="4.800"/><clipPath id="gclip"><circle cx="1905.0" cy="1130.9" r="54"/></clipPath><circle cx="1905.0" cy="1130.9" r="54" fill="#aecde0"/><g clip-path="url(#gclip)" fill="#fff"><path d="M1850.3 1094.6C1851.4 1090.2 1858.7 1082.2 1863.8 1080.4C1868.9 1078.6 1876.2 1083.5 1880.7 1083.6C1885.2 1083.8 1886.6 1081.9 1890.8 1081.2C1895.0 1080.5 1901.4 1079.8 1905.7 1079.6C1910.0 1079.4 1915.1 1079.3 1916.5 1080.3C1917.8 1081.2 1915.4 1083.4 1913.8 1085.1C1912.2 1086.8 1909.1 1089.0 1907.0 1090.5C1905.0 1092.1 1902.7 1093.1 1901.6 1094.6C1900.5 1096.1 1899.9 1098.1 1900.3 1099.3C1900.6 1100.6 1902.1 1102.4 1903.6 1102.0C1905.2 1101.7 1907.9 1098.4 1909.7 1097.3C1911.5 1096.2 1912.9 1095.0 1914.5 1095.3C1916.0 1095.5 1918.2 1097.2 1919.2 1098.6C1920.2 1100.1 1919.7 1102.5 1920.3 1104.1C1920.8 1105.6 1923.0 1106.9 1922.6 1108.1C1922.2 1109.3 1919.8 1110.5 1917.8 1111.5C1915.9 1112.5 1912.8 1113.0 1911.1 1114.2C1909.4 1115.4 1908.2 1117.5 1907.7 1118.9C1907.3 1120.4 1909.1 1121.5 1908.4 1123.0C1907.7 1124.4 1904.7 1126.4 1903.6 1127.7C1902.6 1129.1 1902.3 1129.9 1902.3 1131.1C1902.3 1132.3 1904.0 1134.4 1903.6 1134.9C1903.3 1135.3 1901.4 1134.6 1900.3 1133.8C1899.1 1133.0 1898.2 1130.7 1896.9 1130.0C1895.6 1129.3 1893.5 1129.3 1892.4 1129.7C1891.3 1130.2 1890.3 1131.6 1890.3 1132.7C1890.2 1133.8 1891.4 1135.6 1892.2 1136.5C1893.0 1137.4 1894.4 1137.2 1895.1 1138.1C1895.9 1139.1 1895.1 1140.8 1896.5 1142.2C1897.9 1143.5 1903.9 1145.8 1903.6 1146.2C1903.4 1146.6 1897.7 1145.5 1894.9 1144.6C1892.0 1143.6 1889.5 1142.3 1886.8 1140.5C1884.1 1138.7 1880.9 1136.3 1878.6 1133.8C1876.4 1131.3 1874.6 1128.4 1873.2 1125.7C1871.9 1123.0 1870.9 1120.3 1870.5 1117.6C1870.2 1114.9 1870.7 1112.0 1871.2 1109.5C1871.8 1106.9 1873.7 1103.9 1873.9 1102.0C1874.1 1100.1 1873.4 1098.8 1872.6 1098.0C1871.8 1097.2 1870.7 1096.8 1869.2 1097.3C1867.7 1097.7 1865.8 1099.1 1863.8 1100.7C1861.8 1102.3 1859.3 1107.8 1857.0 1106.8C1854.8 1105.7 1849.1 1099.0 1850.3 1094.6Z"/><path d="M1903.0 1146.2C1905.0 1144.8 1907.9 1143.6 1911.1 1143.0C1914.2 1142.4 1919.1 1142.2 1921.9 1142.6C1924.6 1143.0 1926.2 1144.0 1927.6 1145.3C1929.0 1146.5 1928.9 1148.6 1930.3 1150.0C1931.7 1151.4 1935.5 1151.8 1936.1 1153.4C1936.7 1155.0 1935.1 1157.5 1934.1 1159.5C1933.0 1161.4 1931.8 1163.2 1930.0 1164.9C1928.2 1166.6 1925.0 1167.8 1923.2 1169.6C1921.4 1171.4 1920.7 1173.9 1919.2 1175.7C1917.7 1177.5 1915.7 1179.2 1914.1 1180.4C1912.4 1181.6 1910.2 1183.7 1909.1 1183.1C1907.9 1182.5 1907.8 1179.4 1907.0 1177.0C1906.2 1174.7 1905.6 1171.2 1904.3 1168.9C1903.1 1166.7 1900.8 1165.2 1899.6 1163.5C1898.4 1161.8 1897.4 1160.8 1897.3 1158.8C1897.2 1156.8 1898.2 1153.7 1899.2 1151.6C1900.1 1149.5 1901.0 1147.7 1903.0 1146.2Z"/><path d="M1926.6 1082.4C1926.4 1083.8 1928.9 1087.8 1930.0 1090.5C1931.1 1093.2 1932.3 1098.0 1933.4 1098.6C1934.5 1099.3 1935.4 1095.9 1936.8 1094.6C1938.1 1093.2 1941.5 1092.1 1941.5 1090.5C1941.5 1089.0 1938.4 1086.8 1936.8 1085.4C1935.1 1084.1 1933.0 1082.9 1931.4 1082.4C1929.7 1081.9 1926.8 1081.1 1926.6 1082.4Z"/><path d="M1950.5 1101.4C1949.1 1102.0 1949.4 1106.1 1949.7 1108.1C1950.0 1110.1 1952.3 1111.4 1952.3 1113.2C1952.3 1115.0 1949.7 1117.2 1949.5 1118.9C1949.3 1120.7 1950.1 1122.7 1951.1 1123.6C1952.0 1124.6 1954.2 1125.0 1955.1 1124.6C1956.0 1124.2 1956.0 1120.6 1956.5 1121.4C1957.0 1122.1 1956.9 1128.3 1958.1 1129.1C1959.3 1129.8 1963.0 1128.3 1963.8 1125.7C1964.6 1123.1 1964.0 1117.1 1963.1 1113.5C1962.2 1109.9 1960.5 1106.1 1958.4 1104.1C1956.3 1102.0 1952.0 1100.7 1950.5 1101.4Z"/><path d="M1952.3 1129.7C1950.7 1131.0 1949.1 1134.2 1948.6 1136.5C1948.2 1138.7 1948.7 1141.3 1949.7 1143.2C1950.8 1145.2 1952.8 1147.7 1955.0 1148.0C1957.2 1148.2 1961.6 1147.4 1963.1 1144.6C1964.6 1141.8 1964.6 1133.7 1963.8 1131.1C1963.0 1128.5 1960.3 1129.3 1958.4 1129.1C1956.5 1128.8 1953.9 1128.5 1952.3 1129.7Z"/></g><circle cx="1905" cy="1269.2" r="59.400" fill="none" stroke="#6cc04a" stroke-width="4.800"/><rect x="2520" y="186.700" width="20" height="1028" fill="#fcfcfc"/><rect x="2540" y="53.300" width="20" height="1161" fill="#fcfcfc"/><rect x="2524" y="210.600" width="12" height="612.200" rx="6" fill="#8b8b8b"/><rect x="2544.200" y="77.100" width="11.800" height="1064" rx="5.900" fill="#8b8b8b"/><path d="M2544.7 67.8L2550.0 60.5L2555.3 67.8Z" fill="#8b8b8b" stroke="#8b8b8b" stroke-width="1.800" stroke-linejoin="round"/><path d="M2524.7 201L2530.0 194L2535.3 201Z" fill="#8b8b8b" stroke="#8b8b8b" stroke-width="1.800" stroke-linejoin="round"/><path d="M2544.9 1200.2L2550.2 1208L2555.5 1200.2Z" fill="#8b8b8b" stroke="#8b8b8b" stroke-width="1.800" stroke-linejoin="round"/></svg>
<div class="b" style="left:366.70px;top:1094.40px;width:37.00px;height:36.50px;background:#fff;border-radius:9px;box-shadow:0 5px 16px rgba(0,0,0,.13),0 1px 4px rgba(0,0,0,.06)"></div>
<svg class="i" style="left:371.80px;top:1099.70px" width="26.67" height="26.67" viewBox="0 0 24 24" fill="none" stroke="#000" stroke-width="2" stroke-linecap="round" stroke-linejoin="round"><path d="M4 6a2 2 0 0 1 2 -2h12a2 2 0 0 1 2 2v12a2 2 0 0 1 -2 2h-12a2 2 0 0 1 -2 -2zM9 4v16M15 10l-2 2l2 2"/></svg>
<div class="b" style="left:2227.00px;top:1119.20px;width:312.30px;height:73.70px;background:#fff;border-radius:14px;box-shadow:0 10px 28px rgba(0,0,0,.16),0 2px 8px rgba(0,0,0,.05)"></div>
<div class="b" style="left:2248.20px;top:1129.50px;width:268.70px;height:52.60px;background:#fff;border:1.33px solid #d4d4d9;border-radius:6px"></div>
<svg class="i" style="left:2270.40px;top:1140.00px" width="32.00" height="32.00" viewBox="0 0 24 24" fill="none" stroke="#1e1e23" stroke-width="1.9" stroke-linecap="round" stroke-linejoin="round"><path d="M12 5v14M5 12h14"/></svg>
<span class="t" style="left:2307.47px;top:1143.00px;font-size:21.97px;line-height:25px;transform:scaleX(1.0668);-webkit-text-stroke-width:.5px;">Create dashboard</span>
</main>
</body></html>
